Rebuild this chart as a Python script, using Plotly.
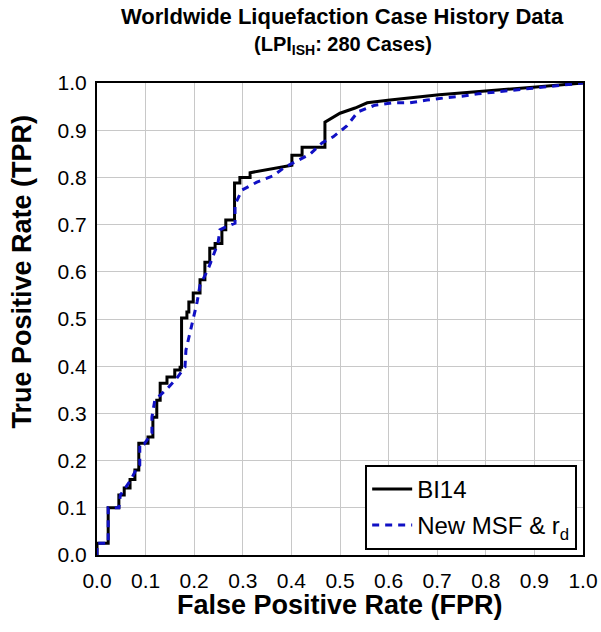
import plotly.graph_objects as go

# ROC curve vertices (false positive rate, true positive rate)
bi14_fpr = [0.000, 0.000, 0.023, 0.023, 0.045, 0.045, 0.056, 0.056, 0.068, 0.068,
            0.078, 0.078, 0.086, 0.086, 0.105, 0.105, 0.115, 0.115, 0.123, 0.123,
            0.130, 0.130, 0.144, 0.144, 0.160, 0.160, 0.171, 0.171, 0.174, 0.174,
            0.185, 0.185, 0.189, 0.189, 0.198, 0.198, 0.212, 0.212, 0.222, 0.222,
            0.232, 0.232, 0.243, 0.243, 0.257, 0.257, 0.265, 0.265, 0.283, 0.283,
            0.294, 0.294, 0.315, 0.315, 0.401, 0.401, 0.422, 0.422, 0.469, 0.469,
            0.500, 0.531, 0.556, 0.603, 0.704, 0.809, 0.897, 1.000]
bi14_tpr = [0.000, 0.025, 0.025, 0.100, 0.100, 0.127, 0.127, 0.142, 0.142, 0.160,
            0.160, 0.180, 0.180, 0.237, 0.237, 0.250, 0.250, 0.292, 0.292, 0.328,
            0.328, 0.364, 0.364, 0.377, 0.377, 0.392, 0.392, 0.398, 0.398, 0.502,
            0.502, 0.515, 0.515, 0.536, 0.536, 0.555, 0.555, 0.583, 0.583, 0.620,
            0.620, 0.650, 0.650, 0.660, 0.660, 0.689, 0.689, 0.710, 0.710, 0.788,
            0.788, 0.800, 0.800, 0.810, 0.826, 0.847, 0.847, 0.864, 0.864, 0.917,
            0.936, 0.947, 0.958, 0.964, 0.975, 0.983, 0.991, 1.000]

new_fpr = [0.000, 0.000, 0.023, 0.023, 0.045, 0.048, 0.058, 0.070, 0.080, 0.088,
           0.088, 0.097, 0.113, 0.113, 0.119, 0.146, 0.163, 0.181, 0.183, 0.189,
           0.198, 0.206, 0.212, 0.228, 0.249, 0.253, 0.265, 0.284, 0.284, 0.298,
           0.329, 0.362, 0.387, 0.407, 0.438, 0.463, 0.486, 0.514, 0.537, 0.572,
           0.609, 0.644, 0.679, 0.712, 0.751, 0.784, 0.823, 0.856, 0.891, 0.926,
           0.959, 1.000]
new_tpr = [0.000, 0.025, 0.025, 0.100, 0.100, 0.127, 0.142, 0.160, 0.180, 0.190,
           0.235, 0.235, 0.258, 0.292, 0.328, 0.354, 0.373, 0.398, 0.434, 0.462,
           0.498, 0.536, 0.572, 0.604, 0.661, 0.689, 0.695, 0.703, 0.742, 0.773,
           0.790, 0.803, 0.822, 0.833, 0.849, 0.873, 0.886, 0.909, 0.939, 0.953,
           0.958, 0.958, 0.964, 0.968, 0.972, 0.977, 0.981, 0.985, 0.989, 0.992,
           0.996, 1.000]

tick_vals = [0.0, 0.1, 0.2, 0.3, 0.4, 0.5, 0.6, 0.7, 0.8, 0.9, 1.0]
tick_text = ["0.0", "0.1", "0.2", "0.3", "0.4", "0.5", "0.6", "0.7", "0.8", "0.9", "1.0"]

FONT = "Liberation Sans, Arial, sans-serif"

fig = go.Figure()
fig.add_trace(go.Scatter(
    x=bi14_fpr, y=bi14_tpr, mode="lines", name="BI14", legendgroup="a",
    line=dict(color="black", width=3)))
fig.add_trace(go.Scatter(
    x=new_fpr, y=new_tpr, mode="lines", name="New MSF & r<sub>d</sub>",
    legendgroup="b",
    line=dict(color="#1010c4", width=3, dash="7px,6px")))

axis_common = dict(
    range=[0, 1], tickvals=tick_vals, ticktext=tick_text,
    showgrid=True, gridcolor="#c8c8c8", gridwidth=1,
    showline=True, linecolor="black", linewidth=2, mirror=True,
    ticks="", zeroline=False, automargin=False,
    tickfont=dict(family=FONT, size=21, color="black"),
)

fig.update_layout(
    width=601, height=632,
    margin=dict(l=97, r=18, t=83, b=77),
    paper_bgcolor="white", plot_bgcolor="white",
    showlegend=True,
    legend=dict(
        x=0.988, y=0.011, xanchor="right", yanchor="bottom",
        bgcolor="white", bordercolor="black", borderwidth=2,
        font=dict(family=FONT, size=24, color="black"),
        tracegroupgap=2, itemwidth=40,
    ),
    xaxis=dict(**axis_common, ticklabelstandoff=6),
    yaxis=dict(**axis_common, ticklabelstandoff=4),
    annotations=[
        dict(text="<b>Worldwide Liquefaction Case History Data</b>",
             xref="paper", yref="paper", x=0.506, y=1.140,
             xanchor="center", yanchor="middle", showarrow=False,
             font=dict(family=FONT, size=22, color="black")),
        dict(text="<b>(LPI<sub>ISH</sub>: 280 Cases)</b>",
             xref="paper", yref="paper", x=0.506, y=1.080,
             xanchor="center", yanchor="middle", showarrow=False,
             font=dict(family=FONT, size=20, color="black")),
        dict(text="<b>False Positive Rate (FPR)</b>",
             xref="paper", yref="paper", x=0.5, y=-0.105,
             xanchor="center", yanchor="middle", showarrow=False,
             font=dict(family=FONT, size=27, color="black")),
        dict(text="<b>True Positive Rate (TPR)</b>",
             xref="paper", yref="paper", x=-0.155, y=0.6,
             xanchor="center", yanchor="middle", showarrow=False,
             textangle=-90,
             font=dict(family=FONT, size=27, color="black")),
    ],
)

fig.write_html("out.html")
